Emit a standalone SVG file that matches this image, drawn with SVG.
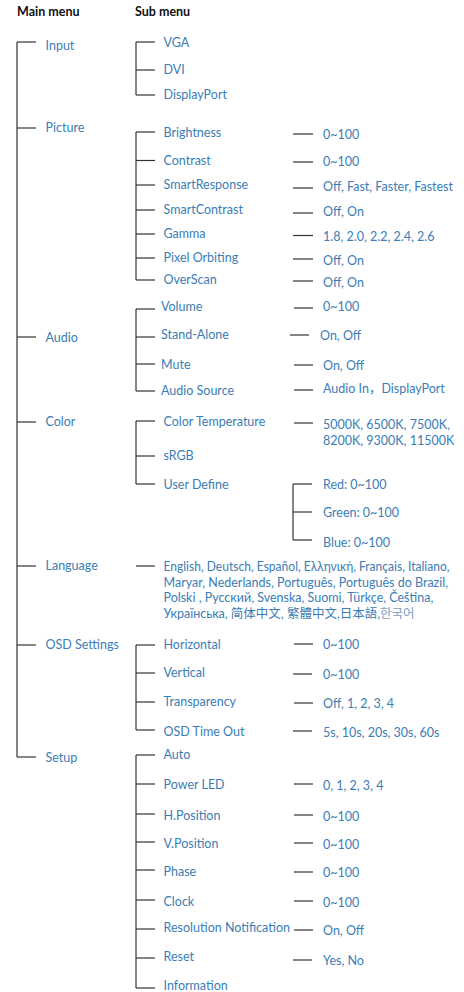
<svg xmlns="http://www.w3.org/2000/svg" width="464" height="992" viewBox="0 0 464 992">
<style>
text{font-family:"Lato","Liberation Sans","Noto Sans CJK SC",sans-serif;font-size:12.5px;fill:#3b7db4}
.h{font-weight:bold;fill:#111;font-size:12.5px}
.c line{stroke:#333;stroke-width:1.2;fill:none}
.ko{fill:#7d9cbf}
</style>
<rect width="464" height="992" fill="#fff"/>
<text class="h" x="17" y="16">Main menu</text>
<text class="h" x="135" y="16">Sub menu</text>
<g id="connectors" class="c">
<line x1="17" y1="42" x2="17" y2="757"/>
<line x1="17" y1="42" x2="36" y2="42"/><line x1="17" y1="128" x2="36" y2="128"/><line x1="17" y1="337" x2="36" y2="337"/><line x1="17" y1="422" x2="36" y2="422"/><line x1="17" y1="566" x2="36" y2="566"/><line x1="17" y1="645" x2="36" y2="645"/><line x1="17" y1="757" x2="36" y2="757"/>
<line x1="136" y1="42" x2="136" y2="95"/>
<line x1="136" y1="42" x2="155" y2="42"/><line x1="136" y1="70" x2="155" y2="70"/><line x1="136" y1="95" x2="155" y2="95"/>
<line x1="136" y1="132" x2="136" y2="280"/>
<line x1="136" y1="132" x2="155" y2="132"/><line x1="136" y1="160.5" x2="155" y2="160.5"/><line x1="136" y1="185" x2="155" y2="185"/><line x1="136" y1="210" x2="155" y2="210"/><line x1="136" y1="234" x2="155" y2="234"/><line x1="136" y1="258" x2="155" y2="258"/><line x1="136" y1="280" x2="155" y2="280"/>
<line x1="293" y1="134" x2="313" y2="134"/><line x1="293" y1="162" x2="313" y2="162"/><line x1="293" y1="188" x2="313" y2="188"/><line x1="293" y1="213" x2="313" y2="213"/><line x1="293" y1="235.5" x2="313" y2="235.5"/><line x1="293" y1="259" x2="313" y2="259"/><line x1="293" y1="281" x2="313" y2="281"/>
<line x1="136" y1="309" x2="136" y2="391"/>
<line x1="136" y1="309" x2="155" y2="309"/><line x1="136" y1="337" x2="155" y2="337"/><line x1="136" y1="364" x2="155" y2="364"/><line x1="136" y1="391" x2="155" y2="391"/>
<line x1="294" y1="308" x2="313" y2="308"/><line x1="290" y1="335" x2="309" y2="335"/><line x1="294" y1="365" x2="313" y2="365"/><line x1="294" y1="390" x2="313" y2="390"/>
<line x1="136" y1="421" x2="136" y2="484"/>
<line x1="136" y1="421" x2="155" y2="421"/><line x1="136" y1="456" x2="155" y2="456"/><line x1="136" y1="484" x2="155" y2="484"/>
<line x1="294" y1="423" x2="313" y2="423"/>
<line x1="293" y1="484" x2="293" y2="540"/>
<line x1="293" y1="484" x2="312" y2="484"/><line x1="293" y1="512" x2="312" y2="512"/><line x1="293" y1="540" x2="312" y2="540"/>
<line x1="136" y1="566" x2="155" y2="566"/>
<line x1="136" y1="645" x2="136" y2="730"/>
<line x1="136" y1="645" x2="155" y2="645"/><line x1="136" y1="673" x2="155" y2="673"/><line x1="136" y1="702" x2="155" y2="702"/><line x1="136" y1="730" x2="155" y2="730"/>
<line x1="294" y1="644" x2="313" y2="644"/><line x1="293" y1="674" x2="312" y2="674"/><line x1="294" y1="703" x2="313" y2="703"/><line x1="293" y1="731" x2="312" y2="731"/>
<line x1="136" y1="755" x2="136" y2="988"/>
<line x1="136" y1="755" x2="155" y2="755"/><line x1="136" y1="784" x2="155" y2="784"/><line x1="136" y1="814" x2="155" y2="814"/><line x1="136" y1="842" x2="155" y2="842"/><line x1="136" y1="870" x2="155" y2="870"/><line x1="136" y1="900" x2="155" y2="900"/><line x1="136" y1="929" x2="155" y2="929"/><line x1="136" y1="958" x2="155" y2="958"/><line x1="136" y1="988" x2="155" y2="988"/>
<line x1="294" y1="784" x2="313" y2="784"/><line x1="294" y1="815" x2="313" y2="815"/><line x1="294" y1="843" x2="313" y2="843"/><line x1="294" y1="872" x2="313" y2="872"/><line x1="294" y1="901" x2="313" y2="901"/><line x1="294" y1="930" x2="313" y2="930"/><line x1="293" y1="960" x2="312" y2="960"/>
</g>
<g id="main-input"><text x="45.5" y="50">Input</text></g>
<g id="main-picture"><text x="45.5" y="132">Picture</text></g>
<g id="main-audio"><text x="45.5" y="341.5">Audio</text></g>
<g id="main-color"><text x="45.5" y="426">Color</text></g>
<g id="main-language"><text x="45.5" y="570">Language</text></g>
<g id="main-osd"><text x="45.5" y="649">OSD Settings</text></g>
<g id="main-setup"><text x="45.5" y="762">Setup</text></g>
<g id="sub-vga"><text x="163.5" y="47">VGA</text></g>
<g id="sub-dvi"><text x="163.5" y="74">DVI</text></g>
<g id="sub-displayport"><text x="163.5" y="99">DisplayPort</text></g>
<g id="sub-brightness"><text x="163.5" y="137">Brightness</text><text x="323" y="138.5">0~100</text></g>
<g id="sub-contrast"><text x="163.5" y="165">Contrast</text><text x="323" y="166">0~100</text></g>
<g id="sub-smartresponse"><text x="163.5" y="189">SmartResponse</text><text x="323" y="191">Off, Fast, Faster, Fastest</text></g>
<g id="sub-smartcontrast"><text x="163.5" y="214">SmartContrast</text><text x="323" y="216">Off, On</text></g>
<g id="sub-gamma"><text x="163.5" y="238">Gamma</text><text x="323" y="240.5">1.8, 2.0, 2.2, 2.4, 2.6</text></g>
<g id="sub-pixelorbiting"><text x="163.5" y="262">Pixel Orbiting</text><text x="323" y="264.5">Off, On</text></g>
<g id="sub-overscan"><text x="163.5" y="284">OverScan</text><text x="323" y="286.5">Off, On</text></g>
<g id="sub-volume"><text x="161" y="311">Volume</text><text x="323" y="311">0~100</text></g>
<g id="sub-standalone"><text x="161" y="338.5">Stand-Alone</text><text x="320" y="339.5">On, Off</text></g>
<g id="sub-mute"><text x="161" y="369">Mute</text><text x="323" y="370">On, Off</text></g>
<g id="sub-audiosource"><text x="161" y="395">Audio Source</text><text x="323" y="392.5">Audio In，DisplayPort</text></g>
<g id="sub-colortemp"><text x="163.5" y="426">Color Temperature</text><text x="323" y="429">5000K, 6500K, 7500K,</text><text x="323" y="445">8200K, 9300K, 11500K</text></g>
<g id="sub-srgb"><text x="163.5" y="460">sRGB</text></g>
<g id="sub-userdefine"><text x="163.5" y="489">User Define</text></g>
<g id="ud-red"><text x="323" y="489">Red: 0~100</text></g>
<g id="ud-green"><text x="323" y="517">Green: 0~100</text></g>
<g id="ud-blue"><text x="323" y="547">Blue: 0~100</text></g>
<g id="sub-languages">
<text x="163.5" y="570.5" textLength="286" lengthAdjust="spacingAndGlyphs">English, Deutsch, Español, Ελληνική, Français, Italiano,</text>
<text x="163.5" y="586.5">Maryar, Nederlands, Português, Português do Brazil,</text>
<text x="163.5" y="602">Polski , Русский, Svenska, Suomi, Türkçe, Čeština,</text>
<text x="163.5" y="618">Українська, 简体中文, 繁體中文,日本語,<tspan class="ko">한국어</tspan></text>
</g>
<g id="sub-horizontal"><text x="163.5" y="649">Horizontal</text><text x="323" y="649">0~100</text></g>
<g id="sub-vertical"><text x="163.5" y="677">Vertical</text><text x="323" y="679">0~100</text></g>
<g id="sub-transparency"><text x="163.5" y="706">Transparency</text><text x="323" y="708">Off, 1, 2, 3, 4</text></g>
<g id="sub-osdtimeout"><text x="163.5" y="736">OSD Time Out</text><text x="323" y="736.5">5s, 10s, 20s, 30s, 60s</text></g>
<g id="sub-auto"><text x="163.5" y="759">Auto</text></g>
<g id="sub-powerled"><text x="163.5" y="789">Power LED</text><text x="323" y="790">0, 1, 2, 3, 4</text></g>
<g id="sub-hposition"><text x="163.5" y="820">H.Position</text><text x="323" y="820.5">0~100</text></g>
<g id="sub-vposition"><text x="163.5" y="848">V.Position</text><text x="323" y="849">0~100</text></g>
<g id="sub-phase"><text x="163.5" y="876">Phase</text><text x="323" y="877">0~100</text></g>
<g id="sub-clock"><text x="163.5" y="906">Clock</text><text x="323" y="906.5">0~100</text></g>
<g id="sub-resnotif"><text x="163.5" y="932">Resolution Notification</text><text x="323" y="935">On, Off</text></g>
<g id="sub-reset"><text x="163.5" y="961">Reset</text><text x="323" y="965">Yes, No</text></g>
<g id="sub-information"><text x="163.5" y="990">Information</text></g>
</svg>
